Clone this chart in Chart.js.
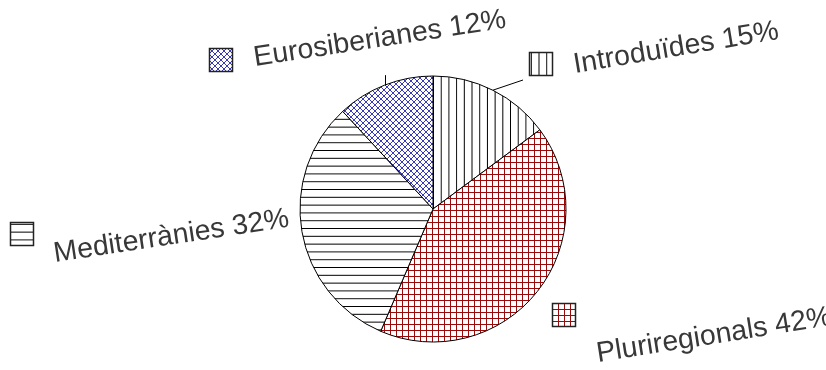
<!DOCTYPE html>
<html>
<head>
<meta charset="utf-8">
<script src="https://cdn.jsdelivr.net/npm/chart.js@4/dist/chart.umd.min.js"></script>
<style>
  html, body { margin: 0; padding: 0; background: #fff; }
</style>
</head>
<body>
<canvas id="pieChart" width="826" height="370"></canvas>
<script>
// values, clockwise from 12 o'clock
const categories = ["Introduïdes", "Pluriregionals", "Mediterrànies", "Eurosiberianes"];
const percentValues = [15, 42, 32, 12];

const canvas = document.getElementById("pieChart");
const ctx = canvas.getContext("2d");

// little tile canvases turned into fill patterns
const makePattern = (kind, color, size, scale = 1, shift = 0) => {
  const tile = document.createElement("canvas");
  tile.width = size;
  tile.height = size;
  const g = tile.getContext("2d");
  g.fillStyle = "#fff";
  g.fillRect(0, 0, size, size);
  g.strokeStyle = color;
  g.lineWidth = 1;
  g.beginPath();
  if (kind === "vertical" || kind === "grid") {
    g.moveTo(0.5, 0);
    g.lineTo(0.5, size);
  }
  if (kind === "horizontal" || kind === "grid") {
    g.moveTo(0, 0.5);
    g.lineTo(size, 0.5);
  }
  if (kind === "cross") {
    g.lineWidth = 0.9;
    for (const d of [-size, 0, size]) {
      g.moveTo(d - 1, -1);
      g.lineTo(d + size + 1, size + 1);
      g.moveTo(d - 1, size + 1);
      g.lineTo(d + size + 1, -1);
    }
  }
  g.stroke();
  const p = ctx.createPattern(tile, "repeat");
  if (scale !== 1 || shift !== 0) {
    p.setTransform(new DOMMatrix([scale, 0, 0, scale, shift, shift]));
  }
  return p;
};

const patterns = [
  makePattern("vertical", "#000", 8, 0.9625, 1.8),
  makePattern("grid", "#9a0a0a", 6),
  makePattern("horizontal", "#000", 8, 0.975, 1.8),
  makePattern("cross", "#2222b4", 6),
];

// where each label sits (box corner, text baseline start, tilt, optional leader end)
const labelSpots = [
  { box: [529, 52], text: [575, 73], angle: -9.5, leader: [523, 80] },
  { box: [552, 303], text: [598, 362], angle: -9 },
  { box: [10, 222], text: [55, 262], angle: -8.6 },
  { box: [209, 48], text: [255, 66], angle: -8.7, leader: "up" },
];

const pieLabels = {
  id: "pieLabels",
  afterDraw(chart) {
    const c = chart.ctx;
    const arcs = chart.getDatasetMeta(0).data;
    c.save();
    arcs.forEach((arc, i) => {
      const spot = labelSpots[i];
      const { x, y, startAngle, endAngle, outerRadius } = arc.getProps(["x", "y", "startAngle", "endAngle", "outerRadius"], true);
      const mid = (startAngle + endAngle) / 2;
      const ax = x + Math.cos(mid) * outerRadius;
      const ay = y + Math.sin(mid) * outerRadius;

      if (spot.leader) {
        const up = spot.leader === "up";
        c.strokeStyle = "#000";
        c.lineWidth = 1;
        c.beginPath();
        c.moveTo(up ? Math.round(ax) + 0.5 : ax, ay);
        c.lineTo(up ? Math.round(ax) + 0.5 : spot.leader[0], up ? ay - 10 : spot.leader[1]);
        c.stroke();
      }

      // small patterned key box
      const [bx, by] = spot.box;
      c.save();
      c.translate(bx, by);
      c.fillStyle = patterns[i];
      c.fillRect(0, 0, 24, 24);
      c.strokeStyle = "#222";
      c.lineWidth = 1.5;
      c.strokeRect(0.5, 0.5, 23, 23);
      c.restore();

      c.save();
      c.translate(spot.text[0], spot.text[1]);
      c.rotate(spot.angle * Math.PI / 180);
      c.font = "28.5px 'Liberation Sans', Arial, sans-serif";
      c.fillStyle = "#383838";
      c.textBaseline = "alphabetic";
      c.textAlign = "left";
      c.fillText(`${categories[i]} ${percentValues[i]}%`, 0, 0);
      c.restore();
    });
    c.restore();
  },
};

new Chart(ctx, {
  type: "pie",
  data: {
    labels: categories,
    datasets: [
      {
        data: percentValues,
        backgroundColor: patterns,
        borderColor: "#000",
        borderWidth: 1,
        hoverOffset: 0,
      },
    ],
  },
  options: {
    responsive: false,
    animation: false,
    devicePixelRatio: 1,
    radius: 133,
    layout: { padding: { left: 300, right: 260, top: 76, bottom: 28 } },
    plugins: {
      legend: { display: false },
      tooltip: { enabled: false },
    },
  },
  plugins: [pieLabels],
});
</script>
</body>
</html>
